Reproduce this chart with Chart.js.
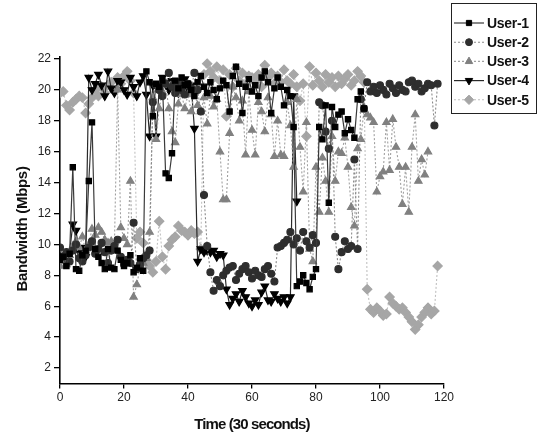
<!DOCTYPE html>
<html>
<head>
<meta charset="utf-8">
<title>Bandwidth per user</title>
<script src="https://cdn.jsdelivr.net/npm/chart.js@4.4.1/dist/chart.umd.min.js"></script>
<style>
  html, body { margin: 0; padding: 0; background: #fff; }
  #wrap { position: relative; width: 538px; height: 441px; }
</style>
</head>
<body>
<div id="wrap"><canvas id="bw-chart" width="538" height="441"></canvas></div>
<script>
// series names (legend order)
var seriesNames = ["User-1", "User-2", "User-3", "User-4", "User-5"];

// bandwidth in Mbps, one value per 30 s step, starting at t = 0
var user1 = [
  9.0, 9.2, 8.6, 9.4, 15.0, 8.4, 8.3, 9.3, 9.6, 14.1,
  17.9, 9.7, 9.2, 8.8, 8.4, 9.7, 8.5, 8.4, 9.6, 9.0,
  8.6, 8.8, 9.3, 8.2, 8.5, 9.1, 8.3, 21.2, 20.5, 18.3,
  20.4, 20.2, 20.6, 14.6, 14.3, 15.9, 20.6, 20.1, 20.8, 20.3,
  20.4, 20.0, 19.6, 20.5, 20.9, 20.2, 19.8, 20.5, 20.0, 19.4,
  20.1, 20.6, 20.3, 18.6, 20.9, 21.5, 20.4, 18.5, 20.2, 20.7,
  19.9, 20.3, 19.6, 20.8, 21.2, 20.5, 18.5, 20.1, 20.8, 20.2,
  19.0, 20.0, 19.6, 17.6, 7.3, 7.6, 8.0, 7.5, 7.1, 7.9,
  8.4, 17.6, 16.8, 19.0, 12.7, 18.9, 17.6, 18.4, 18.6, 17.2,
  18.1, 17.4, 16.9, 19.4, 19.9, 18.8
];
var user2 = [
  9.8, 9.2, 9.5, 8.9, 9.6, 10.0, 9.1, 8.9, 9.3, 9.8,
  10.2, 9.4, 9.7, 10.1, 9.5, 8.8, 9.6, 9.9, 10.3, 9.2,
  8.7, 9.0, 8.8, 11.4, 8.4, 8.7, 9.1, 9.3, 9.6, 19.2,
  20.3, 20.0, 19.6, 20.4, 21.1, 20.2, 19.8, 20.5, 20.0, 19.7,
  20.4, 20.1, 21.1, 20.0, 18.6, 13.2, 9.9, 8.2, 7.0, 7.7,
  7.3, 8.0, 8.3, 8.5, 8.6, 7.7, 8.1, 8.4, 8.6, 8.2,
  7.8, 8.3, 8.0, 7.9, 8.4, 8.6, 8.1, 7.6, 9.8, 9.9,
  10.1, 10.3, 10.8, 10.0, 10.4, 9.6, 10.8, 10.2, 9.8, 10.6,
  10.1, 19.2, 19.0, 17.3, 16.2, 18.0, 10.5, 8.4, 9.5, 10.2,
  9.7, 9.9, 15.5, 9.7, 19.4, 18.8, 20.5, 19.9, 20.2, 19.8,
  20.3, 20.0, 19.7, 20.4, 20.1, 19.8, 20.3, 20.0, 19.9, 20.5,
  20.6, 20.2, 20.4, 19.9, 20.1, 20.4, 20.3, 17.7, 20.4
];
var user3 = [
  8.6, 8.9, 8.7, 9.3, 9.9, 10.2, 9.8, 10.5, 9.6, 10.0,
  11.0, 10.6, 11.1, 10.8, 10.3, 10.1, 10.2, 9.9, 20.0, 11.1,
  10.4, 10.0, 14.1, 6.6, 7.4, 8.5, 8.8, 9.1, 10.8, 19.5,
  16.8, 18.8, 19.9, 20.4, 18.8, 17.3, 16.6, 19.1, 19.7, 18.8,
  19.7, 18.6, 19.9, 19.0, 18.6, 19.5, 17.8, 19.6, 18.9, 19.4,
  16.0, 12.9, 12.9, 17.2, 20.2, 19.5, 18.0, 19.3, 15.8, 19.9,
  17.4, 15.8, 19.2, 18.6, 17.3, 19.5, 18.4, 15.7, 18.0, 15.8,
  15.7, 19.2, 17.7, 15.0, 19.4, 16.3, 13.4, 17.9, 9.7, 8.9,
  15.0, 12.1, 15.6, 14.1, 12.1, 17.0, 14.1, 16.0, 15.9, 16.9,
  15.0, 12.4, 11.2, 16.2, 16.8, 18.7, 18.4, 18.2, 17.9, 13.4,
  14.4, 14.7, 17.9, 14.8, 18.1, 16.3, 15.0, 12.6, 15.0, 12.1,
  16.3, 18.4, 14.1, 15.5, 14.5, 16.0
];
var user4 = [
  9.0, 9.3, 9.1, 9.5, 11.3, 10.9, 9.5, 9.8, 9.2, 20.8,
  20.0, 20.4, 21.0, 20.3, 19.6, 21.2, 20.1, 19.8, 20.6, 20.5,
  20.0, 19.7, 20.8, 20.2, 19.6, 20.5, 20.9, 19.7, 17.0, 20.3,
  17.0, 20.1, 20.8, 20.5, 20.0, 20.6, 20.2, 19.8, 20.4, 20.7,
  20.1, 20.3, 17.5, 8.9, 9.7, 9.5, 9.6, 9.5, 9.6, 9.2,
  9.4, 9.3, 7.1, 6.1, 6.5, 6.8, 6.3, 7.0, 6.6, 6.2,
  6.0, 6.4, 6.1, 6.9, 7.3, 6.4, 6.3, 6.8, 6.5, 6.3,
  6.6, 6.2, 6.6, 19.6, 12.8
];
var user5 = [
  19.8, 19.9, 19.0, 18.7, 19.2, 19.4, 19.6, 19.5, 18.5, 19.1,
  19.5, 20.0, 19.6, 20.2, 19.8, 20.3, 20.5, 19.9, 20.8, 20.4,
  20.9, 21.2, 20.6, 19.8, 10.4, 10.8, 10.1, 9.0, 8.6, 8.2,
  8.9, 11.5, 9.2, 8.4, 9.9, 10.3, 10.5, 11.2, 10.9, 10.8,
  10.6, 10.9, 10.7, 10.8, 9.7, 21.0, 21.7, 21.2, 20.8, 21.5,
  20.6, 21.3, 18.3, 21.0, 20.2, 21.4, 20.6, 21.1, 20.3, 20.9,
  20.8, 20.5, 21.0, 20.2, 21.6, 20.8, 21.1, 20.4, 20.9, 20.5,
  21.3, 20.6, 20.4, 21.0, 20.2, 19.3, 20.4, 17.0, 21.5, 20.3,
  21.1, 20.6, 20.2, 21.0, 20.5, 20.8, 20.2, 20.9, 20.4, 20.7,
  21.0, 20.3, 20.6, 21.2, 20.9, 20.5, 7.1, 5.8, 5.6, 5.9,
  5.7, 5.4, 5.5, 6.6, 6.2, 6.0, 5.8, 5.9, 5.6, 5.3,
  5.0, 4.5, 4.8, 5.3, 5.6, 5.9, 5.5, 5.7, 8.6
];

// axis ticks and titles
var xTicks = [0, 20, 40, 60, 80, 100, 120];
var yTicks = [2, 4, 6, 8, 10, 12, 14, 16, 18, 20, 22];
var xTitle = "Time (30 seconds)";
var yTitle = "Bandwidth (Mbps)";

var FONT = '"Liberation Sans", Arial, sans-serif';

function toPoints(arr) {
  return arr.map(function (v, i) { return { x: i, y: v }; });
}

// axis titles: drawn here so the letters can be packed tight like the scan
var axisTitles = {
  id: 'axisTitles',
  afterDraw: function (chart) {
    var ctx = chart.ctx;
    var area = chart.chartArea;
    ctx.save();
    ctx.fillStyle = '#111';
    ctx.font = 'bold 15px ' + FONT;
    ctx.textAlign = 'center';
    ctx.textBaseline = 'middle';
    ctx.letterSpacing = '-0.9px';
    ctx.fillText(xTitle, (area.left + area.right) / 2, 425);
    ctx.letterSpacing = '-0.3px';
    ctx.translate(23, 229);
    ctx.rotate(-Math.PI / 2);
    ctx.fillText(yTitle, 0, 0);
    ctx.restore();
  }
};

// legend drawn in a box at the top right, like the original figure
var legendBox = {
  id: 'legendBox',
  afterDraw: function (chart) {
    var ctx = chart.ctx;
    ctx.save();
    ctx.strokeStyle = '#222';
    ctx.lineWidth = 1;
    ctx.strokeRect(451.5, 3.5, 85, 110);
    chart.data.datasets.forEach(function (ds, i) {
      var y = 23 + i * 19.2;
      ctx.strokeStyle = ds.borderColor;
      ctx.lineWidth = ds.borderWidth;
      ctx.setLineDash(ds.borderDash || []);
      ctx.beginPath();
      ctx.moveTo(454, y);
      ctx.lineTo(484, y);
      ctx.stroke();
      ctx.setLineDash([]);
      ctx.fillStyle = ds.pointBackgroundColor;
      ctx.strokeStyle = ds.pointBorderColor;
      ctx.lineWidth = 1;
      Chart.helpers.drawPoint(ctx, {
        pointStyle: ds.pointStyle,
        rotation: ds.pointRotation || 0,
        radius: ds.pointRadius,
        borderWidth: 1
      }, 469, y);
      ctx.fillStyle = '#111';
      ctx.font = 'bold 14px ' + FONT;
      ctx.letterSpacing = '-0.3px';
      ctx.textBaseline = 'middle';
      ctx.textAlign = 'left';
      ctx.fillText(ds.label, 487, y + 1);
    });
    ctx.restore();
  }
};

new Chart(document.getElementById("bw-chart"), {
  type: 'line',
  data: {
    datasets: [{
        label: seriesNames[0],
        data: toPoints(user1),
        borderColor: "#3a3a3a",
        borderWidth: 1.2,
        pointStyle: 'rect',
        pointRadius: 3.7,
        pointBackgroundColor: "#000",
        pointBorderColor: "#000"
      }, {
        label: seriesNames[1],
        data: toPoints(user2),
        borderColor: "#8a8a8a",
        borderWidth: 1.1,
        borderDash: [2, 2],
        pointStyle: 'circle',
        pointRadius: 3.5,
        pointBackgroundColor: "#2e2e2e",
        pointBorderColor: "#2e2e2e"
      }, {
        label: seriesNames[2],
        data: toPoints(user3),
        borderColor: "#a0a0a0",
        borderWidth: 1.1,
        borderDash: [2, 2],
        pointStyle: 'triangle',
        pointRadius: 4.3,
        pointBackgroundColor: "#808080",
        pointBorderColor: "#808080"
      }, {
        label: seriesNames[3],
        data: toPoints(user4),
        borderColor: "#2a2a2a",
        borderWidth: 1.2,
        pointStyle: 'triangle',
        pointRotation: 180,
        pointRadius: 4.3,
        pointBackgroundColor: "#000",
        pointBorderColor: "#000"
      }, {
        label: seriesNames[4],
        data: toPoints(user5),
        borderColor: "#c0c0c0",
        borderWidth: 1.1,
        borderDash: [2, 2],
        pointStyle: 'rectRot',
        pointRadius: 4.7,
        pointBackgroundColor: "#a6a6a6",
        pointBorderColor: "#a6a6a6"
      }
    ]
  },
  options: {
    responsive: false,
    animation: false,
    layout: { padding: { top: 57, right: 94, left: 0, bottom: 0 } },
    plugins: {
      legend: { display: false },
      tooltip: { enabled: false }
    },
    scales: {
      x: {
        type: 'linear',
        min: 0,
        max: 120,
        afterBuildTicks: function (scale) {
          scale.ticks = xTicks.map(function (v) { return { value: v }; });
        },
        afterFit: function (scale) { scale.height = 57.5; },
        border: { display: true, color: '#000', width: 1.6 },
        grid: { display: true, drawOnChartArea: false, drawTicks: true, tickLength: 5, color: '#000', lineWidth: 1.3 },
        ticks: { color: '#222', font: { family: FONT, size: 12 }, padding: 2, maxRotation: 0 }
      },
      y: {
        type: 'linear',
        min: 1,
        max: 22.13,
        afterBuildTicks: function (scale) {
          scale.ticks = yTicks.map(function (v) { return { value: v }; });
        },
        afterFit: function (scale) { scale.width = 60; },
        border: { display: true, color: '#000', width: 1.6 },
        grid: { display: true, drawOnChartArea: false, drawTicks: true, tickLength: 6, color: '#000', lineWidth: 1.3 },
        ticks: { color: '#222', font: { family: FONT, size: 12 }, padding: 3 }
      }
    }
  },
  plugins: [axisTitles, legendBox]
});
</script>
</body>
</html>
